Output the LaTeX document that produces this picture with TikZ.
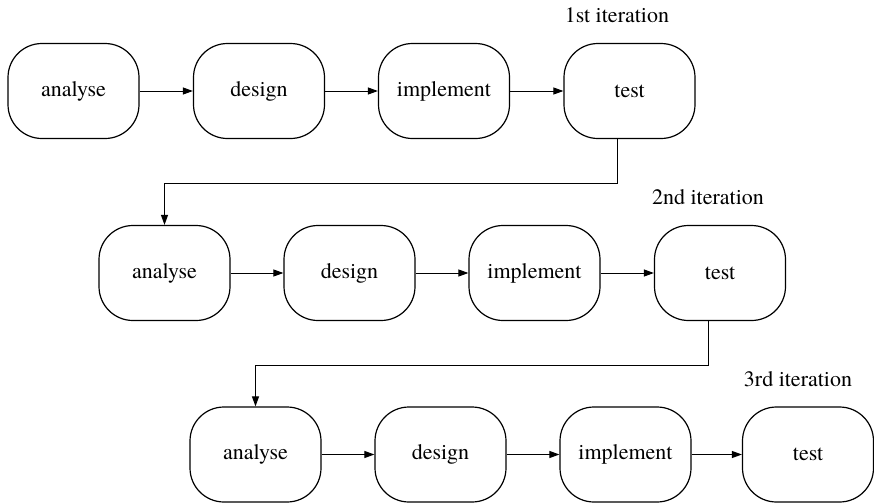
\documentclass[tikz,border=0pt]{standalone}
\usepackage{fontspec}
\setmainfont{texgyretermes}[Extension=.otf, UprightFont=*-regular, BoldFont=*-bold, ItalicFont=*-italic, BoldItalicFont=*-bolditalic]
\usetikzlibrary{arrows.meta}
\begin{document}
\begin{tikzpicture}[x=0.5pt,y=-0.5pt,
  phase/.style={draw, rounded corners=17pt, minimum width=65.5pt, minimum height=47.5pt,
    inner sep=0pt, line width=0.6pt, font=\fontsize{11}{13}\selectfont},
  flow/.style={-{Triangle[length=5pt,width=3.5pt]}, line width=0.5pt},
  iter/.style={font=\fontsize{11}{13}\selectfont, inner sep=0pt}]
\useasboundingbox (0,0) rectangle (874,504);
% row 1
\node[phase] (a1) at (73.5,91) {analyse};
\node[phase] (d1) at (259,91) {design};
\node[phase] (i1) at (444,91) {implement};
\node[phase] (t1) at (629.5,91) {test};
\node[iter] (l1) at (617,15) {1st iteration};
% row 2
\node[phase] (a2) at (164.5,273) {analyse};
\node[phase] (d2) at (349.5,273) {design};
\node[phase] (i2) at (534.5,273) {implement};
\node[phase] (t2) at (720,273) {test};
\node[iter] (l2) at (708,197) {2nd iteration};
% row 3
\node[phase] (a3) at (255.5,454.5) {analyse};
\node[phase] (d3) at (440.5,454.5) {design};
\node[phase] (i3) at (625.5,454.5) {implement};
\node[phase] (t3) at (808,454.5) {test};
\node[iter] (l3) at (798,379) {3rd iteration};
% arrows within rows
\draw[flow] (a1) -- (d1);
\draw[flow] (d1) -- (i1);
\draw[flow] (i1) -- (t1);
\draw[flow] (a2) -- (d2);
\draw[flow] (d2) -- (i2);
\draw[flow] (i2) -- (t2);
\draw[flow] (a3) -- (d3);
\draw[flow] (d3) -- (i3);
\draw[flow] (i3) -- (t3);
% iteration connectors
\coordinate (c1) at (617,183);
\coordinate (c2) at (708.5,365);
\draw[flow] (t1.south -| c1) -- (c1) -| (a2.north);
\draw[flow] (t2.south -| c2) -- (c2) -| (a3.north);
\end{tikzpicture}
\end{document}
